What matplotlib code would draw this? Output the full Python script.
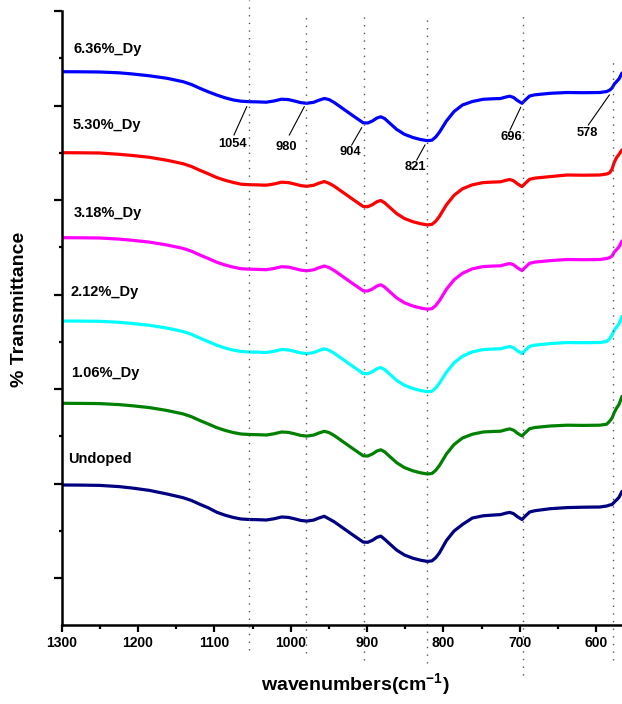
import matplotlib
matplotlib.use("Agg")
import matplotlib.pyplot as plt
import numpy as np

plt.rcParams['font.family'] = ['Liberation Sans', 'DejaVu Sans']
plt.rcParams['mathtext.fontset'] = 'custom'
plt.rcParams['mathtext.rm'] = 'Liberation Sans'
plt.rcParams['mathtext.bf'] = 'Liberation Sans:bold'

# ---- data (wavenumber in cm^-1, transmittance in arbitrary offset units) ----
wavenumbers = [1300, 1275, 1250,
               1225, 1207, 1185,
               1162, 1141, 1130, 1119, 1108,
               1097, 1086, 1075,
               1065, 1054, 1043, 1032, 1022, 1012, 1003, 995, 987, 979, 970, 963, 956,
               950, 943, 930, 917, 905, 899, 893, 887, 882,
               877, 872, 861, 851, 840, 830, 821, 815, 810, 805,
               796, 786, 775,
               762, 748, 736, 725, 718, 713, 708, 703, 697, 692, 687, 680, 660,
               638, 617, 595, 586,
               582, 579, 576, 573, 570, 568, 566]

t_636 = [553.3, 553.2, 553.0,
         552.2, 551.0, 549.2,
         546.7, 543.3, 540.5, 536.7, 533.2,
         530.0, 527.2, 525.0,
         523.8, 523.3, 523.1, 522.8, 524.0, 525.8, 525.4, 524.0, 522.4, 521.7, 522.7, 524.8, 526.5,
         525.5, 522.5, 515.5, 508.5, 502.2, 502.0, 504.0, 507.0, 508.2,
         506.5, 503.0, 495.5, 490.7, 487.5, 485.5, 484.3, 484.8, 488.0, 493.0,
         504.0, 513.5, 520.0,
         523.5, 525.7, 526.2, 526.5, 528.0, 528.8, 527.5, 524.5, 521.7, 525.5, 529.0, 530.2, 531.7,
         532.5, 532.3, 532.5, 533.5,
         535.0, 537.0, 541.0, 543.5, 546.0, 549.0, 552.0]
t_530 = [472.3, 472.2, 472.0,
         470.7, 469.5, 467.7,
         464.7, 461.3, 458.5, 454.7, 451.2,
         447.5, 444.7, 442.5,
         440.8, 440.3, 440.1, 439.8, 441.0, 442.8, 442.4, 441.0, 439.4, 438.7, 439.7, 441.8, 443.5,
         441.8, 438.8, 431.8, 424.8, 418.5, 418.3, 420.3, 423.3, 424.5,
         422.3, 418.8, 411.3, 406.5, 403.3, 401.3, 400.1, 400.6, 403.8, 408.8,
         420.2, 429.7, 436.2,
         440.2, 442.4, 442.9, 443.2, 444.7, 445.5, 444.2, 441.2, 438.4, 442.2, 445.7, 446.9, 448.4,
         450.0, 449.8, 450.0, 451.0,
         452.3, 456.0, 463.0, 467.5, 470.5, 473.0, 475.0]
t_318 = [387.3, 387.2, 387.0,
         385.9, 384.7, 382.9,
         380.0, 376.6, 373.8, 370.0, 366.5,
         362.8, 360.0, 357.8,
         356.3, 355.8, 355.6, 355.3, 356.5, 358.3, 357.9, 356.5, 354.9, 354.2, 355.2, 357.3, 359.0,
         357.5, 354.5, 347.5, 340.5, 334.2, 334.0, 336.0, 339.0, 340.2,
         338.0, 334.5, 327.0, 322.2, 319.0, 317.0, 315.8, 316.3, 319.5, 324.5,
         335.7, 345.2, 351.7,
         356.2, 358.4, 358.9, 359.2, 360.7, 361.5, 360.2, 357.2, 354.4, 358.2, 361.7, 362.9, 364.4,
         365.5, 365.3, 365.5, 366.5,
         367.5, 369.0, 373.0, 375.5, 378.0, 381.0, 384.0]
t_212 = [304.0, 303.9, 303.7,
         302.7, 301.5, 299.7,
         296.9, 293.5, 290.7, 286.9, 283.4,
         279.8, 277.0, 274.8,
         273.5, 273.0, 272.8, 272.5, 273.7, 275.5, 275.1, 273.7, 272.1, 271.4, 272.4, 274.5, 276.2,
         274.8, 271.8, 264.8, 257.8, 251.5, 251.3, 253.3, 256.3, 257.5,
         255.5, 252.0, 244.5, 239.7, 236.5, 234.5, 233.3, 233.8, 237.0, 242.0,
         252.7, 262.2, 268.7,
         273.2, 275.4, 275.9, 276.2, 277.7, 278.5, 277.2, 274.2, 271.4, 275.2, 278.7, 279.9, 281.4,
         282.5, 282.3, 282.5, 283.5,
         286.5, 290.0, 295.0, 298.0, 301.0, 305.0, 308.6]
t_106 = [221.7, 221.6, 221.4,
         220.4, 219.2, 217.4,
         214.5, 211.1, 208.3, 204.5, 201.0,
         197.4, 194.6, 192.4,
         191.0, 190.5, 190.3, 190.0, 191.2, 193.0, 192.6, 191.2, 189.6, 188.9, 189.9, 192.0, 193.7,
         192.5, 189.5, 182.5, 175.5, 169.2, 169.0, 171.0, 174.0, 175.2,
         173.2, 169.7, 162.2, 157.4, 154.2, 152.2, 151.0, 151.5, 154.7, 159.7,
         171.0, 180.5, 187.0,
         190.8, 193.0, 193.5, 193.8, 195.3, 196.1, 194.8, 191.8, 189.0, 192.8, 196.3, 197.5, 199.0,
         199.8, 199.6, 199.8, 200.8,
         204.0, 207.0, 212.7, 217.0, 220.5, 224.5, 228.6]
t_undoped = [140.0, 139.9, 139.6,
             138.4, 136.9, 134.6,
             131.0, 127.3, 124.5, 120.7, 117.2,
             112.8, 109.8, 107.5,
             106.0, 105.5, 105.3, 105.0, 106.2, 108.0, 107.6, 106.2, 104.6, 103.9, 104.9, 107.0, 108.7,
             106.2, 103.2, 96.2, 89.2, 82.9, 82.7, 84.7, 87.7, 88.9,
             85.8, 82.3, 74.8, 70.0, 66.8, 64.8, 63.6, 64.1, 67.3, 72.3,
             84.5, 94.0, 100.5,
             107.0, 109.2, 109.9, 110.4, 111.9, 112.6, 111.3, 108.3, 105.5, 109.4, 113.0, 114.3, 116.3,
             117.4, 117.8, 118.0, 119.0,
             120.0, 120.5, 123.0, 125.2, 127.6, 130.6, 133.6]

series_labels = ['6.36%_Dy', '5.30%_Dy', '3.18%_Dy', '2.12%_Dy', '1.06%_Dy', 'Undoped']
series_colors = ['#0000FF', '#FF0000', '#FF00FF', '#00FFFF', '#008000', '#000080']
series_values = [t_636, t_530, t_318, t_212, t_106, t_undoped]
label_x = [1285, 1286, 1284, 1288, 1288, 1291]
label_y = [576, 500, 411.7, 333.3, 251.7, 165.7]

peak_positions = [1054, 980, 904, 821, 696, 578]
peak_line_ranges = [(-25, 625), (-28, 613), (-35, 614), (-38, 611), (-50, 613), (-35, 563)]
# leader lines (start near curve -> end near text) and text positions
peak_leader = [((1057.6, 518.3), (1074.3, 490)), ((982.2, 518.3), (1001.8, 490)),
               ((907, 497.3), (920.1, 480)), ((824.1, 480), (834.9, 465)),
               ((698.7, 517.7), (712.7, 495)), ((582.6, 530), (610.1, 500))]
peak_text = [(1075.6, 481), (1005.2, 477.7), (922.3, 473.3), (837.1, 457.7),
             (710.4, 488.3), (610.9, 492.3)]

x_ticks = [1300, 1200, 1100, 1000, 900, 800, 700, 600]

# ---- figure ----
fig = plt.figure(figsize=(6.22, 7.04), dpi=100)
ax = fig.add_axes([61.7 / 622, 79 / 704, 1 - 61.7 / 622, 614.3 / 704])

for vals, col in zip(series_values, series_colors):
    ax.plot(wavenumbers, vals, color=col, lw=2.3, solid_joinstyle='round',
            solid_capstyle='round')

for lab, lx, ly in zip(series_labels, label_x, label_y):
    ax.text(lx, ly, lab, fontsize=10.5, fontweight='bold', ha='left', va='center')

for pos, (y0, y1) in zip(peak_positions, peak_line_ranges):
    ax.plot([pos, pos], [y0, y1], color='#555555', lw=1.0, linestyle=(0, (1, 4.5)),
            clip_on=False)

for (p0, p1), (tx, ty), pos in zip(peak_leader, peak_text, peak_positions):
    ax.plot([p0[0], p1[0]], [p0[1], p1[1]], color='black', lw=0.8)
    ax.text(tx, ty, str(pos), fontsize=9.3, fontweight='bold', ha='center', va='center')

ax.set_xlim(1300, 566)
ax.set_ylim(0, 614.3)
ax.set_xticks(x_ticks)
ax.set_xticks(np.arange(1250, 560, -100), minor=True)
ax.set_yticks(np.arange(47, 615, 94.5))
ax.set_yticks(np.arange(94.25, 614, 94.5), minor=True)
ax.set_yticklabels([])
for lab in ax.get_xticklabels():
    lab.set_fontweight('bold')
ax.tick_params(axis='x', which='major', direction='out', length=5, width=1.6,
               labelsize=10, pad=3)
ax.tick_params(axis='x', which='minor', direction='out', length=3, width=1.6)
ax.tick_params(axis='y', which='major', direction='out', length=5.5, width=1.6)
ax.tick_params(axis='y', which='minor', direction='out', length=2.5, width=1.6)

ax.spines['top'].set_visible(False)
ax.spines['right'].set_visible(False)
ax.spines['left'].set_linewidth(1.8)
ax.spines['bottom'].set_linewidth(1.8)

fig.text(355 / 622, (704 - 691) / 704, r'wavenumbers(cm$^{\mathbf{-1}}$)', fontsize=14,
         fontweight='bold', ha='center', va='baseline')
fig.text(20 / 622, 1 - 309.3 / 704, '% Transmittance', fontsize=14, fontweight='bold',
         ha='center', va='center', rotation=90)

fig.savefig('out.png', dpi=100)
